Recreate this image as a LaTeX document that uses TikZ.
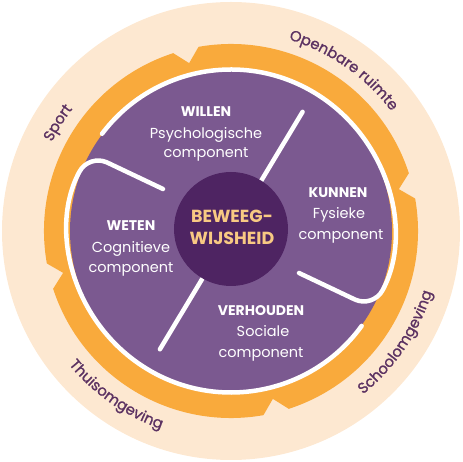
\documentclass[tikz,border=0pt]{standalone}
\usepackage{fontspec}
\setmainfont{Poppins}
\newfontfamily\ringfam[FakeBold=1.2]{Poppins}
\usetikzlibrary{decorations.text}
\definecolor{cream}{HTML}{FDE8D1}
\definecolor{ringorange}{HTML}{F9AA3C}
\definecolor{wheelpurple}{HTML}{7B5990}
\definecolor{corepurple}{HTML}{4E2462}
\definecolor{corepeach}{HTML}{F8C983}
\definecolor{inkpurple}{HTML}{5C3262}
\newcommand{\ringfont}{\ringfam\fontsize{14.8}{16}\selectfont}
\begin{document}
\begin{tikzpicture}[x=1pt, y=1pt,
  wline/.style={white, line width=4.5pt, line cap=round},
  head/.style={white, anchor=base, font=\fontsize{14}{16}\selectfont\bfseries},
  sub/.style={white, anchor=base, font=\fontsize{14.5}{18}\selectfont},
  core/.style={corepeach, anchor=base, font=\fontsize{17.5}{20}\selectfont\bfseries},
  ringtext/.style={decorate, decoration={text along path, text align=center,
    text color=inkpurple, text={|\ringfont|#1}}}]
\useasboundingbox (-231,-231) rectangle (232,231);
\fill[cream] (0,0) circle (229);
% orange band with four notches
\fill[ringorange] (18:187) arc[start angle=18, end angle=100, radius=187] -- (104:173) -- (108:187)
  arc[start angle=108, end angle=190, radius=187] -- (194:173) -- (198:187)
  arc[start angle=198, end angle=280, radius=187] -- (284:173) -- (288:187)
  arc[start angle=288, end angle=370, radius=187] -- (374:173) -- cycle;
\fill[wheelpurple] (0,0) circle (161);
% white dividers
\draw[wline, rounded corners=20pt] (68,-42) -- (-28.5:161.5) arc[start angle=-28.5, end angle=143, radius=161.5];
\draw[wline, rounded corners=20pt] (-68,42) -- (151.5:161.5) arc[start angle=151.5, end angle=324, radius=161.5];
\draw[wline] (59:56) -- (59:139);
\draw[wline] (239:56) -- (239:138);
\fill[corepurple] (0,2) circle (57);
\node[core] (beweeg) at (1,8) {BEWEEG-};
\node[core] (wijsheid) at (1,-14) {WIJSHEID};
% quadrants
\node[head] (willen) at (-25,114) {WILLEN};
\node[sub] (willena) at (-25,92) {Psychologische};
\node[sub] (willenb) at (-25,73) {component};
\node[head] (kunnen) at (107,33) {KUNNEN};
\node[sub] (kunnena) at (108,12) {Fysieke};
\node[sub] (kunnenb) at (110,-9) {component};
\node[head] (weten) at (-100,0) {WETEN};
\node[sub] (wetena) at (-100,-22) {Cognitieve};
\node[sub] (wetenb) at (-100,-42) {component};
\node[head] (verhouden) at (30,-85) {VERHOUDEN};
\node[sub] (verhoudena) at (32,-106) {Sociale};
\node[sub] (verhoudenb) at (30,-127) {component};
% outer ring
\path[ringtext={Openbare ruimte}] (100:200) arc[start angle=100, end angle=10, radius=200];
\path[ringtext={Sport}] (190:200) arc[start angle=190, end angle=106, radius=200];
\path[ringtext={Thuisomgeving}] (195:210) arc[start angle=195, end angle=275, radius=210];
\path[ringtext={Schoolomgeving}] (-75:210) arc[start angle=-75, end angle=7, radius=210];
\end{tikzpicture}
\end{document}
